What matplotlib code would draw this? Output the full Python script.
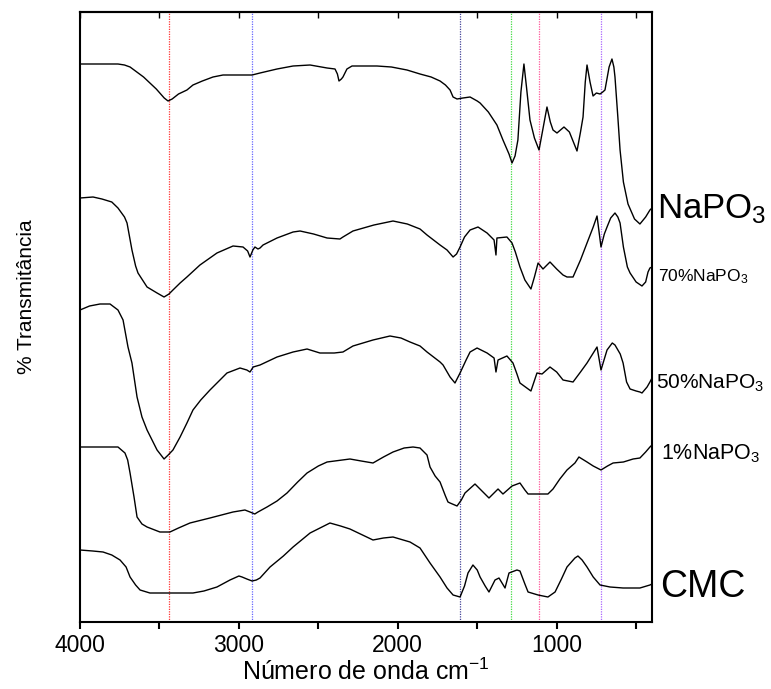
import matplotlib
matplotlib.use("Agg")
import matplotlib.pyplot as plt
from matplotlib.ticker import MultipleLocator

plt.rcParams['font.family'] = ['Liberation Sans', 'DejaVu Sans']
plt.rcParams['mathtext.fontset'] = 'custom'
plt.rcParams['mathtext.rm'] = 'Liberation Sans'
plt.rcParams['mathtext.it'] = 'Liberation Sans:italic'

# ---- data (wavenumber cm-1, offset transmittance in arbitrary units) ----
napo3_wn = [4000, 3761, 3720, 3685, 3600, 3520, 3470, 3446, 3420, 3380, 3327, 3289, 3230, 3163,
            3100, 2917, 2867, 2760, 2659, 2552, 2445, 2395, 2380, 2370, 2355, 2345, 2320, 2288,
            2131, 2040, 1942, 1860, 1790, 1734, 1700, 1671, 1652, 1627, 1590, 1545, 1500, 1482,
            1430, 1376, 1338, 1300, 1281, 1262, 1244, 1225, 1206, 1190, 1168, 1140, 1111, 1090,
            1061, 1040, 1023, 998, 954, 920, 872, 850, 834, 820, 809, 790, 771, 750, 727, 710,
            696, 670, 652, 640, 633, 615, 601, 580, 551, 510, 476, 440, 413, 400]
napo3_t = [558, 558, 557, 555, 545, 533, 524, 521, 523, 528, 532, 537, 541, 545,
           547, 547, 549, 553, 556, 557, 554, 553, 548, 541, 543, 545, 553, 556,
           556, 555, 552, 548, 545, 541, 537, 532, 525, 523, 524, 525, 521, 519,
           510, 497, 482, 468, 459, 466, 482, 530, 558, 535, 502, 484, 472, 490,
           515, 500, 492, 489, 495, 490, 471, 490, 505, 540, 557, 540, 526, 529, 528, 530,
           532, 555, 563, 555, 545, 505, 472, 440, 418, 403, 398, 405, 412, 414]

p70_wn = [4000, 3918, 3862, 3800, 3761, 3720, 3704, 3673, 3650, 3635, 3578, 3515, 3471, 3440,
          3415, 3370, 3327, 3245, 3138, 3037, 2974, 2945, 2930, 2912, 2899, 2880, 2867, 2848,
          2760, 2659, 2615, 2530, 2445, 2364, 2345, 2282, 2150, 2030, 1940, 1860, 1816, 1734,
          1690, 1652, 1630, 1608, 1580, 1545, 1495, 1438, 1394, 1382, 1376, 1313, 1281, 1260,
          1231, 1200, 1162, 1140, 1117, 1086, 1042, 1000, 960, 935, 897, 850, 809, 770, 746,
          721, 700, 683, 660, 633, 615, 601, 580, 555, 538, 500, 463, 440, 425, 413, 400]
p70_t = [424, 425, 423, 420, 414, 405, 399, 372, 356, 349, 335, 329, 325, 328,
         332, 339, 345, 357, 369, 376, 375, 371, 365, 372, 375, 373, 374, 377,
         384, 390, 391, 388, 384, 383, 385, 391, 397, 401, 398, 393, 387, 377,
         372, 365, 368, 375, 385, 392, 395, 389, 382, 367, 384, 385, 379, 370,
         355, 342, 333, 345, 359, 353, 360, 353, 347, 345, 345, 362, 379, 395, 406,
         375, 388, 395, 404, 409, 405, 399, 375, 355, 349, 340, 336, 340, 350, 354, 355]

p50_wn = [4000, 3940, 3874, 3811, 3761, 3729, 3698, 3673, 3641, 3610, 3578, 3515, 3471, 3445,
          3415, 3370, 3327, 3289, 3240, 3182, 3075, 2993, 2950, 2930, 2910, 2867, 2760, 2659,
          2571, 2490, 2400, 2345, 2282, 2156, 2049, 1980, 1923, 1860, 1816, 1734, 1715, 1671,
          1640, 1608, 1570, 1545, 1501, 1438, 1394, 1382, 1369, 1313, 1275, 1250, 1231, 1162,
          1124, 1092, 1042, 1000, 960, 897, 850, 809, 746, 721, 683, 650, 633, 600, 582, 560,
          538, 500, 476, 463, 431, 413, 400]
p50_t = [312, 316, 318, 318, 312, 302, 275, 259, 225, 205, 192, 172, 163, 167,
         172, 185, 199, 212, 222, 232, 249, 254, 252, 250, 255, 257, 265, 270,
         273, 269, 269, 270, 276, 282, 286, 284, 280, 276, 270, 260, 257, 245,
         239, 249, 262, 270, 274, 269, 264, 250, 262, 266, 259, 248, 239, 231,
         249, 248, 255, 250, 242, 240, 250, 259, 275, 252, 272, 279, 277, 268, 259, 240,
         233, 231, 230, 229, 235, 240, 244]

p1_wn = [4000, 3761, 3717, 3700, 3685, 3660, 3641, 3610, 3578, 3497, 3434, 3380, 3308, 3182,
         3037, 2962, 2930, 2900, 2880, 2823, 2760, 2697, 2630, 2571, 2500, 2445, 2301, 2230,
         2156, 2090, 2030, 1960, 1904, 1860, 1816, 1797, 1765, 1734, 1700, 1684, 1671, 1627,
         1600, 1577, 1514, 1470, 1426, 1369, 1338, 1281, 1231, 1200, 1180, 1117, 1055, 1023,
         980, 935, 885, 860, 809, 770, 721, 680, 645, 580, 519, 476, 440, 413, 400]
p1_t = [175, 175, 169, 162, 149, 125, 105, 98, 95, 90, 90, 94, 99, 104,
        110, 112, 110, 108, 110, 115, 121, 129, 140, 149, 156, 160, 163, 161,
        159, 165, 170, 174, 175, 174, 167, 155, 146, 140, 126, 120, 119, 116,
        122, 129, 138, 131, 124, 133, 128, 136, 139, 132, 128, 128, 128, 133,
        143, 152, 159, 165, 160, 156, 152, 156, 159, 160, 163, 164, 170, 175, 177]

cmc_wn = [4000, 3920, 3855, 3800, 3748, 3710, 3685, 3650, 3622, 3560, 3497, 3289, 3220, 3138,
          3056, 3000, 2980, 2950, 2917, 2890, 2867, 2804, 2720, 2659, 2552, 2427, 2360, 2301,
          2156, 2090, 2030, 1923, 1860, 1797, 1734, 1690, 1652, 1608, 1580, 1558, 1527, 1500,
          1482, 1450, 1426, 1388, 1363, 1340, 1325, 1300, 1250, 1231, 1200, 1180, 1117, 1055,
          1010, 970, 935, 885, 866, 840, 809, 770, 727, 664, 582, 476, 413, 400]
cmc_t = [72, 71, 70, 67, 62, 55, 45, 37, 32, 29, 29, 29, 31, 35,
         42, 46, 45, 43, 41, 42, 44, 55, 66, 75, 89, 99, 96, 93,
         82, 84, 85, 80, 74, 59, 45, 34, 27, 25, 36, 49, 57, 52,
         45, 36, 30, 42, 44, 38, 34, 49, 52, 51, 38, 30, 27, 25,
         30, 43, 55, 64, 66, 62, 55, 45, 37, 35, 34, 34, 37, 38]

series = [
    (napo3_wn, napo3_t),
    (p70_wn, p70_t),
    (p50_wn, p50_t),
    (p1_wn, p1_t),
    (cmc_wn, cmc_t),
]

curve_labels = [r'NaPO$_{\mathregular{3}}$', r'70%NaPO$_{\mathregular{3}}$',
                r'50%NaPO$_{\mathregular{3}}$', r'1%NaPO$_{\mathregular{3}}$', 'CMC']
label_y = [0.662, 0.559, 0.382, 0.266, 0.041]
label_x = [1.009, 1.010, 1.007, 1.016, 1.014]
label_size = [25, 12.5, 15, 15.5, 27]

band_wn = [3440, 2920, 1610, 1290, 1110, 720]
band_colors = ['#ff3333', '#6666ff', '#444499', '#44dd44', '#ff5599', '#aa66ff']

xticks_major = [4000, 3000, 2000, 1000]

# ---- figure ----
fig = plt.figure(figsize=(7.71, 6.89), dpi=100)
ax = fig.add_axes([80/771, 67/689, 572/771, 610/689])

for wn, t in series:
    ax.plot(wn, t, color='black', lw=1.0)

for w, c in zip(band_wn, band_colors):
    ax.axvline(w, color=c, ls=(0, (1, 1)), lw=0.9, zorder=0)

ax.set_xlim(4000, 400)
ax.set_ylim(0, 610)
ax.set_yticks([])
ax.set_xticks(xticks_major)
ax.xaxis.set_minor_locator(MultipleLocator(500))
ax.tick_params(axis='x', which='both', direction='out', length=5, width=1.5,
               labelsize=16.5, pad=4)
for s in ax.spines.values():
    s.set_linewidth(1.5)

sec = ax.secondary_xaxis('top')
sec.set_xticks(xticks_major)
sec.xaxis.set_minor_locator(MultipleLocator(500))
sec.tick_params(axis='x', which='both', direction='in', length=4, width=1.0,
                labeltop=False)
sec.spines['top'].set_linewidth(1.5)

for lab, lx, ly, fs in zip(curve_labels, label_x, label_y, label_size):
    ax.text(lx, ly, lab, transform=ax.transAxes, fontsize=fs, ha='left',
            va='baseline', clip_on=False)

ax.set_xlabel(r'Número de onda cm$^{\mathregular{-1}}$', fontsize=18, labelpad=1)
fig.text(27/771, 1 - 297/689, '% Transmitância', rotation=90, fontsize=15,
         ha='center', va='center')

fig.savefig('out.png', dpi=100)
